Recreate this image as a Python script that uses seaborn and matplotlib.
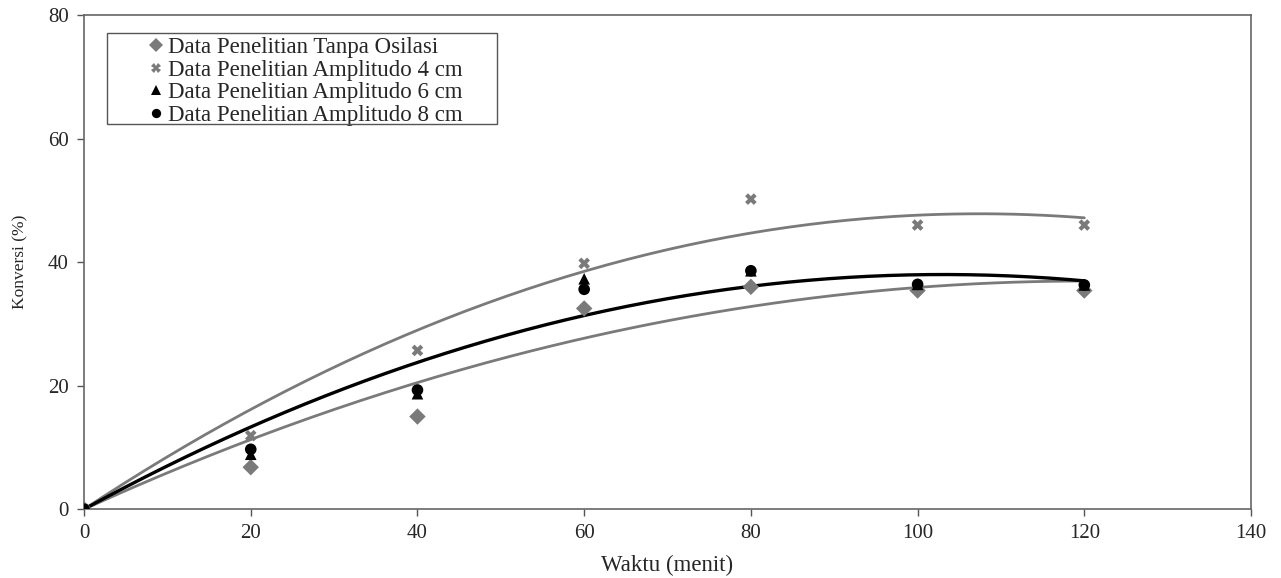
import numpy as np
import pandas as pd
import matplotlib
matplotlib.use("Agg")
import matplotlib.pyplot as plt
from matplotlib.patches import Rectangle
import seaborn as sns

waktu = [0, 20, 40, 60, 80, 100, 120]
tanpa_osilasi = [0, 6.8, 15.0, 32.5, 36.0, 35.4, 35.4]
amplitudo_4 = [0, 11.9, 25.7, 39.8, 50.2, 46.0, 46.0]
amplitudo_6 = [0, 8.9, 18.7, 37.3, 38.6, 36.4, 36.3]
amplitudo_8 = [0, 9.7, 19.3, 35.6, 38.6, 36.4, 36.3]

labels = ["Data Penelitian Tanpa Osilasi", "Data Penelitian Amplitudo 4 cm",
          "Data Penelitian Amplitudo 6 cm", "Data Penelitian Amplitudo 8 cm"]
x_ticks = [0, 20, 40, 60, 80, 100, 120, 140]
y_ticks = [0, 20, 40, 60, 80]

sns.set_theme(style="white")
plt.rcParams['font.family'] = ['Liberation Serif', 'DejaVu Serif']

series = [tanpa_osilasi, amplitudo_4, amplitudo_6, amplitudo_8]
df = pd.concat([pd.DataFrame({"Waktu": waktu, "Konversi": s, "Seri": lab})
                for s, lab in zip(series, labels)], ignore_index=True)

def trend_zero(xs, ys, deg=2):
    """Polynomial trendline with intercept fixed at 0 (as in Excel)."""
    xs = np.asarray(xs, float); ys = np.asarray(ys, float)
    A = np.column_stack([xs ** k for k in range(1, deg + 1)])
    coef, *_ = np.linalg.lstsq(A, ys, rcond=None)
    xx = np.linspace(0, 120, 200)
    yy = sum(c * xx ** (k + 1) for k, c in enumerate(coef))
    return xx, yy

fig = plt.figure(figsize=(12.81, 5.78), dpi=100)
ax = fig.add_axes([0.0656, 0.119, 0.911, 0.855])

gray = "#7a7a7a"
xx, y1 = trend_zero(waktu, tanpa_osilasi)
_, y2 = trend_zero(waktu, amplitudo_4)
_, y3 = trend_zero(waktu + waktu, amplitudo_6 + amplitudo_8)
sns.lineplot(x=xx, y=y1, ax=ax, color=gray, lw=2, legend=False)
sns.lineplot(x=xx, y=y2, ax=ax, color=gray, lw=2, legend=False)
sns.lineplot(x=xx, y=y3, ax=ax, color="black", lw=2.4, legend=False)

palette = {labels[0]: gray, labels[1]: gray, labels[2]: "black", labels[3]: "black"}
markers = {labels[0]: "D", labels[1]: "X", labels[2]: "^", labels[3]: "o"}
sns.scatterplot(data=df, x="Waktu", y="Konversi", hue="Seri", style="Seri",
                palette=palette, markers=markers, s=70, edgecolor="none",
                linewidth=0, ax=ax, zorder=5)

ax.set_xlim(0, 140)
ax.set_ylim(0, 80)
ax.set_xticks(x_ticks)
ax.set_yticks(y_ticks)
ax.tick_params(axis='both', which='both', direction='out', length=5, width=1,
               color="#555555", labelsize=15, pad=6, left=True, bottom=True)
for sp in ax.spines.values():
    sp.set_color("#666666")
    sp.set_linewidth(1.2)
ax.set_xlabel("Waktu (menit)", fontsize=16.5, labelpad=8)
ax.set_ylabel("Konversi (%)", fontsize=12.5, labelpad=14)
ax.grid(False)

leg = ax.legend(loc="upper left", bbox_to_anchor=(0.0437, 0.979), fontsize=16.5,
                frameon=False, handletextpad=0.15, handlelength=0.8,
                borderpad=0.0, labelspacing=0.075, markerscale=0.8)
ax.add_patch(Rectangle((0.0197, 0.779), 0.334, 0.1846, transform=ax.transAxes,
                       fill=False, edgecolor="#555555", lw=1.0, zorder=6))

fig.savefig("out.png", dpi=100, facecolor="white")
